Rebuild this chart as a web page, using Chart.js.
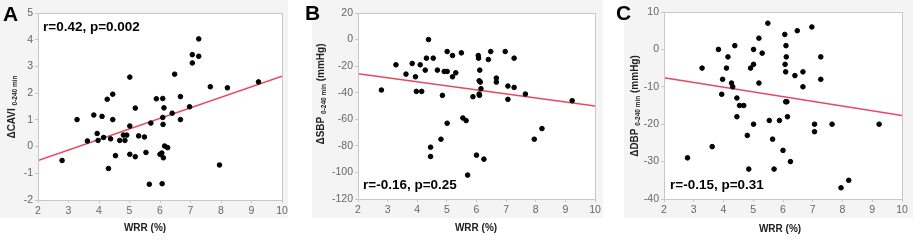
<!DOCTYPE html>
<html>
<head>
<meta charset="utf-8">
<script src="https://cdn.jsdelivr.net/npm/chart.js@4.4.1/dist/chart.umd.min.js"></script>
<style>
  html, body { margin: 0; padding: 0; background: #fff; }
  #wrap { position: relative; width: 913px; height: 241px; overflow: hidden; }
  .bg { position: absolute; top: 0; height: 218px; background: #f4f4f4; }
  canvas { position: absolute; top: 0; }
</style>
</head>
<body>
<div id="wrap">
  <div class="bg" style="left:0;width:288px"></div>
  <div class="bg" style="left:312px;width:291px"></div>
  <div class="bg" style="left:624px;width:289px"></div>
  <canvas id="chartA" width="300" height="241" style="left:0"></canvas>
  <canvas id="chartB" width="305" height="241" style="left:300px"></canvas>
  <canvas id="chartC" width="308" height="241" style="left:605px"></canvas>
</div>
<script>
// WRR (%) - mismo paciente en los tres paneles
const wrr = [2.79, 3.28, 3.62, 3.83, 3.94, 3.97, 4.10, 4.15, 4.27, 4.31, 4.38, 4.45, 4.45,
  4.54, 4.68, 4.80, 4.85, 4.91, 5.01, 5.01, 5.01, 5.19, 5.19, 5.30, 5.49, 5.54, 5.65,
  5.70, 5.88, 6.00, 6.06, 6.07, 6.09, 6.09, 6.10, 6.11, 6.13, 6.15, 6.25, 6.40, 6.48,
  6.67, 6.67, 6.97, 7.06, 7.06, 7.27, 7.27, 7.65, 7.95, 8.21, 9.23];

const deltaCavi = [-0.52, 1.01, 0.21, 1.18, 0.49, 0.23, 1.13, 0.34, 1.77, -0.82, 0.29, 1.96, 1.01,
  -0.34, 0.23, 0.43, 0.23, 0.43, 2.60, 0.77, -0.29, 1.44, -0.38, 0.40, 0.36, -0.22, -1.41,
  0.88, 1.79, -0.29, -0.24, -1.39, 1.80, 1.09, 0.83, -0.42, 1.45, 0.02, -0.04, 1.25, 2.71,
  1.87, 1.01, 1.49, 3.13, 3.44, 3.38, 4.03, 2.24, -0.69, 2.20, 2.42];

const deltaSbp = [-38, -19, -26, -18, -28, -39, -19, -39, -23, -14, 0, -81, -88,
  -14, -23, -75, -42, -24, -9, -24, -63, -12, -28, -25, -10, -59, -61,
  -102, -43, -87, -12, -14, -31, -41, -42, -23, -32, -37, -90, -15, -9,
  -29, -32, -9, -35, -45, -14, -36, -41, -75, -67, -46];

const deltaDbp = [-29, -5, -26, 0, -12, -8, -5, -2, -9, -10, 1, -13, -18,
  -15, -15, -23, -32, -5, 0, -4, -20, 3, -9, -1, 7, -19, -24,
  -32, -19, -27, 4, -4, -6, -14, 1, -2, -14, -18, -30, -7, 5,
  -6, -10, 6, -20, -22, -2, -8, -20, -37, -35, -20];

// Rectas de regresión (extremos en x = 2 y x = 10)
const fitX = [2, 10];
const fitCavi = [-0.52, 2.63];
const fitSbp = [-25.8, -50];
const fitDbp = [-7.6, -17.7];

const xTicks = { min: 2, max: 10, step: 1 };
const yTicksA = { min: -2, max: 5, step: 1 };
const yTicksB = { min: -120, max: 20, step: 20 };
const yTicksC = { min: -40, max: 10, step: 10 };

const FONT = "'Liberation Sans', Arial, sans-serif";
Chart.defaults.font.family = FONT;

function crearPanel(id, opts) {
  const ox = opts.canvasLeft;
  const canvas = document.getElementById(id);
  const W = canvas.width;

  const plugin = {
    id: 'panel' + id,
    beforeDraw(chart) {
      const a = chart.chartArea;
      const ctx = chart.ctx;
      ctx.save();
      ctx.fillStyle = '#ffffff';
      ctx.fillRect(a.left, a.top, a.right - a.left, a.bottom - a.top);
      ctx.restore();
    },
    afterDraw(chart) {
      const a = chart.chartArea;
      const ctx = chart.ctx;
      ctx.save();
      // marco
      ctx.strokeStyle = '#c8c8c8';
      ctx.lineWidth = 1;
      ctx.strokeRect(Math.round(a.left) + 0.5, Math.round(a.top) + 0.5,
        Math.round(a.right - a.left), Math.round(a.bottom - a.top));

      // letra del panel
      ctx.fillStyle = '#000';
      ctx.font = 'bold 21px ' + FONT;
      ctx.textBaseline = 'alphabetic';
      ctx.textAlign = 'left';
      ctx.fillText(opts.letter, opts.letterPos[0] - ox, opts.letterPos[1]);

      // r y p
      ctx.font = 'bold 13.5px ' + FONT;
      ctx.textBaseline = 'middle';
      ctx.fillText(opts.stat, opts.statPos[0] - ox, opts.statPos[1]);

      // título eje x
      ctx.font = 'bold 10px ' + FONT;
      ctx.textAlign = 'center';
      ctx.fillStyle = '#222';
      ctx.fillText('WRR (%)', opts.xTitlePos[0] - ox, opts.xTitlePos[1]);

      // título eje y con subíndice
      const mainF = 'bold 10px ' + FONT;
      const subF = 'bold 6.5px ' + FONT;
      ctx.font = mainF;
      const w1 = ctx.measureText(opts.yMain).width;
      const w3 = opts.yUnit ? ctx.measureText(opts.yUnit).width : 0;
      ctx.font = subF;
      const w2 = ctx.measureText(opts.ySub).width;
      const total = w1 + w2 + w3;
      ctx.translate(opts.yTitlePos[0] - ox, opts.yTitlePos[1]);
      ctx.rotate(-Math.PI / 2);
      ctx.textAlign = 'left';
      ctx.textBaseline = 'alphabetic';
      let x = -total / 2;
      ctx.font = mainF;
      ctx.fillText(opts.yMain, x, 3.5);
      x += w1;
      ctx.font = subF;
      ctx.fillText(opts.ySub, x, 5.5);
      x += w2;
      if (opts.yUnit) {
        ctx.font = mainF;
        ctx.fillText(opts.yUnit, x, 3.5);
      }
      ctx.restore();
    }
  };

  const puntos = wrr.map((v, i) => ({ x: v, y: opts.values[i] }));
  const recta = fitX.map((v, i) => ({ x: v, y: opts.fit[i] }));

  const area = opts.area;
  const tickFont = { size: 10.5, family: FONT };

  return new Chart(canvas.getContext('2d'), {
    type: 'scatter',
    data: {
      datasets: [
        {
          data: puntos,
          backgroundColor: '#000',
          borderColor: '#000',
          pointRadius: 2.3,
          pointHoverRadius: 2.3,
          order: 0
        },
        {
          type: 'line',
          data: recta,
          borderColor: '#ea4660',
          borderWidth: 1.5,
          pointRadius: 0,
          fill: false,
          order: 1
        }
      ]
    },
    options: {
      responsive: false,
      animation: false,
      events: [],
      layout: {
        padding: { left: 0, top: area.t, right: W - (area.r - ox), bottom: 0 }
      },
      plugins: { legend: { display: false }, tooltip: { enabled: false } },
      scales: {
        x: {
          type: 'linear',
          min: xTicks.min,
          max: xTicks.max,
          ticks: { stepSize: xTicks.step, color: '#666', font: tickFont, padding: 2 },
          grid: { drawOnChartArea: false, color: '#c8c8c8', tickLength: 3 },
          border: { color: '#c8c8c8' },
          afterFit(scale) { scale.height = 241 - area.b; }
        },
        y: {
          type: 'linear',
          min: opts.yTicks.min,
          max: opts.yTicks.max,
          ticks: { stepSize: opts.yTicks.step, color: '#666', font: tickFont, padding: 2 },
          grid: { drawOnChartArea: false, color: '#c8c8c8', tickLength: 3 },
          border: { color: '#c8c8c8' },
          afterFit(scale) { scale.width = area.l - ox; }
        }
      }
    },
    plugins: [plugin]
  });
}

document.addEventListener('DOMContentLoaded', function() {
  crearPanel('chartA', {
    canvasLeft: 0,
    area: { l: 38, r: 282, t: 13, b: 200 },
    values: deltaCavi,
    fit: fitCavi,
    yTicks: yTicksA,
    letter: 'A', letterPos: [3, 21],
    stat: 'r=0.42, p=0.002', statPos: [43, 27],
    xTitlePos: [145, 228],
    yTitlePos: [11, 107],
    yMain: '\u0394CAVI ', ySub: '0-240 min', yUnit: ''
  });

  crearPanel('chartB', {
    canvasLeft: 300,
    area: { l: 358, r: 595, t: 13, b: 199 },
    values: deltaSbp,
    fit: fitSbp,
    yTicks: yTicksB,
    letter: 'B', letterPos: [305, 20],
    stat: 'r=-0.16, p=0.25', statPos: [363, 185],
    xTitlePos: [476, 228],
    yTitlePos: [320, 94],
    yMain: '\u0394SBP ', ySub: '0-240 min', yUnit: ' (mmHg)'
  });

  crearPanel('chartC', {
    canvasLeft: 605,
    area: { l: 664, r: 902, t: 12, b: 199 },
    values: deltaDbp,
    fit: fitDbp,
    yTicks: yTicksC,
    letter: 'C', letterPos: [616, 20],
    stat: 'r=-0.15, p=0.31', statPos: [670, 185],
    xTitlePos: [780, 229],
    yTitlePos: [634, 106],
    yMain: '\u0394DBP ', ySub: '0-240 min', yUnit: ' (mmHg)'
  });
});
</script>
</body>
</html>
